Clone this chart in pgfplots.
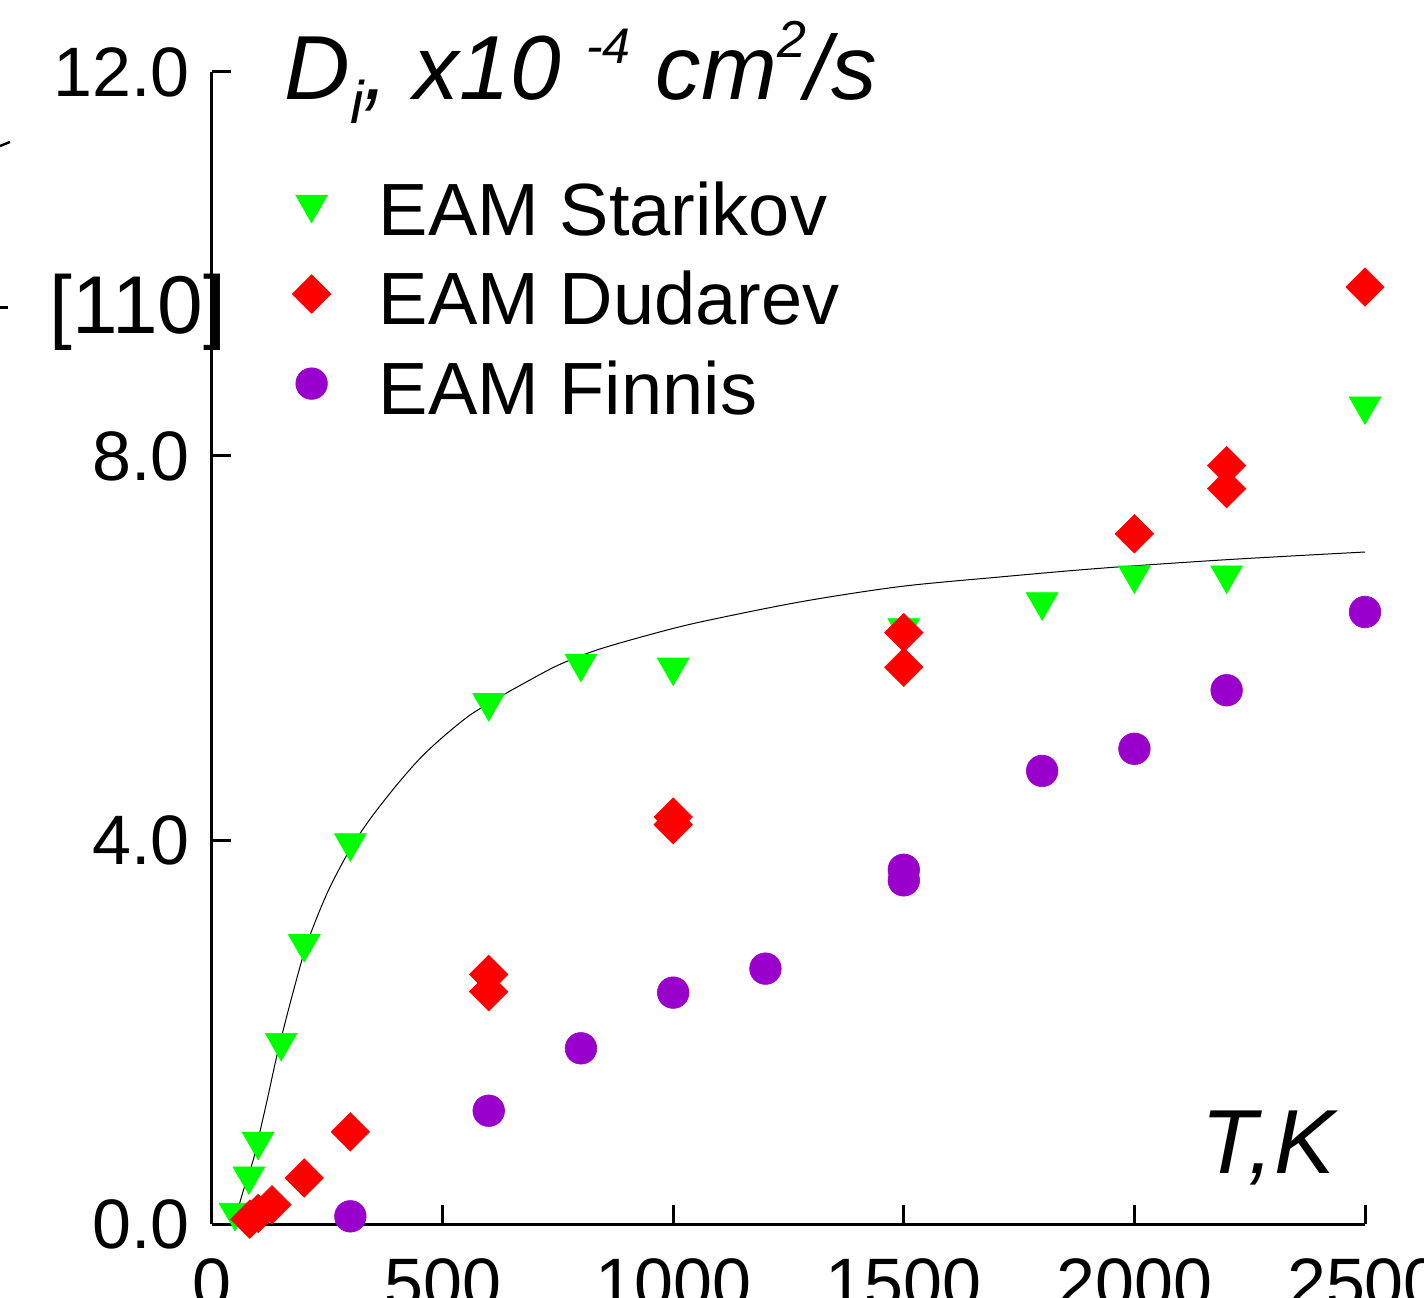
\documentclass[border=0pt]{standalone}
\usepackage{pgfplots}
\pgfplotsset{compat=1.18}
\usepackage{fontspec}
\setmainfont{Liberation Sans}
\definecolor{starikov}{RGB}{0,255,0}
\definecolor{dudarev}{RGB}{255,0,0}
\definecolor{finnis}{RGB}{153,0,204}

\begin{document}
\begin{tikzpicture}
\begin{axis}[
    scale only axis,
    width=576.5pt, height=576pt,
    xmin=0, xmax=2500, ymin=0, ymax=12,
    axis lines*=left,
    axis line style={line width=1.5pt},
    every tick/.style={black, line width=1.5pt},
    tick align=inside,
    major tick length=9.5pt,
    xtick={0,500,...,2500},
    ytick={0,4,8,12},
    tick label style={font=\fontsize{35}{42}\selectfont},
    /pgf/number format/assume math mode=true,
    yticklabel style={inner sep=0pt, xshift=-11pt,
        /pgf/number format/.cd, fixed, fixed zerofill, precision=1},
    xticklabel style={inner sep=0pt, yshift=-17pt,
        /pgf/number format/1000 sep={}},
    clip=false,
    legend style={at={(rel axis cs:0,1)}, anchor=north west,
        xshift=40pt, yshift=-54.5pt, draw=none, fill=none, inner sep=0pt,
        font=\fontsize{37}{44}\selectfont, row sep=8.8pt, column sep=24pt,
        nodes={inner sep=0pt, text height=27pt, text depth=9pt}},
    legend cell align=left,
    legend image code/.code={\draw[#1] plot coordinates {(0pt,6.5pt)};},
]
\addplot[only marks, color=starikov, mark=triangle*, mark size=9.2pt,
    mark options={rotate=180, line width=0.3pt}] coordinates {
    (50,0.12) (80,0.50) (100,0.86) (150,1.89) (200,2.92) (300,3.97)
    (600,5.43) (800,5.84) (1000,5.80) (1500,6.21) (1800,6.48)
    (2000,6.76) (2200,6.76) (2500,8.52)
};
\addlegendentry{EAM Starikov}
\addplot[only marks, color=dudarev, mark=square*, mark size=6.8pt,
    mark options={rotate=45, line width=0.3pt}] coordinates {
    (82,0.05) (100,0.11) (130,0.20) (200,0.48) (300,0.96)
    (600,2.60) (600,2.42) (1000,4.24) (1000,4.16) (1500,6.16) (1500,5.80)
    (2000,7.19) (2200,7.90) (2200,7.66) (2500,9.76)
};
\addlegendentry{EAM Dudarev}
\addplot[only marks, color=finnis, mark=*, mark size=7.9pt,
    mark options={line width=0.3pt}] coordinates {
    (300,0.08) (600,1.18) (800,1.83) (1000,2.41) (1200,2.66)
    (1500,3.69) (1500,3.58) (1800,4.72) (2000,4.95) (2200,5.56) (2500,6.375)
};
\addlegendentry{EAM Finnis}
% fitted curve
\addplot[black, line width=0.5pt, smooth, forget plot] coordinates {
    (54,0.12) (70,0.38) (89,0.66) (100,0.88) (120,1.30) (143,1.80)
    (175,2.40) (206,2.92) (250,3.45) (299,3.90) (343,4.22) (400,4.57)
    (451,4.85) (500,5.07) (559,5.30) (624,5.49) (668,5.61) (750,5.82)
    (835,5.98) (950,6.14) (1058,6.27) (1275,6.48) (1492,6.64)
    (1709,6.74) (1925,6.83) (2200,6.92) (2500,7.00)
};
\node[anchor=base west, inner sep=0pt, font=\fontsize{45.5}{52}\selectfont\itshape,
    xshift=36pt, yshift=-14pt] at (rel axis cs:0,1)
    {D\raisebox{-12pt}{\fontsize{30}{30}\selectfont i}, x10 \raisebox{18pt}{\fontsize{25}{25}\selectfont -4} cm\raisebox{21pt}{\fontsize{26}{26}\selectfont 2}/s};
\node[anchor=base east, inner sep=0pt, font=\fontsize{45.5}{52}\selectfont\itshape,
    xshift=-15pt, yshift=25.5pt] at (rel axis cs:1,0) {T,K};
\node[inner sep=0pt, font=\fontsize{41}{48}\selectfont, xshift=-37pt, yshift=456pt]
    at (rel axis cs:0,0) {[110]};
\coordinate (O) at (rel axis cs:0,0);
\coordinate (E) at (rel axis cs:1,1);
\end{axis}
% fragments of the neighbouring panel at the left edge
\draw[line width=1.5pt] ([xshift=-106pt,yshift=458pt]O) -- ++(4pt,0);
\draw[line width=1.2pt] ([xshift=-106pt,yshift=539pt]O) -- ++(5pt,2pt);
\pgfresetboundingbox
\path[use as bounding box] ([xshift=-106pt,yshift=-36.5pt]O) rectangle ([xshift=29.5pt,yshift=36pt]E);
\end{tikzpicture}
\end{document}
